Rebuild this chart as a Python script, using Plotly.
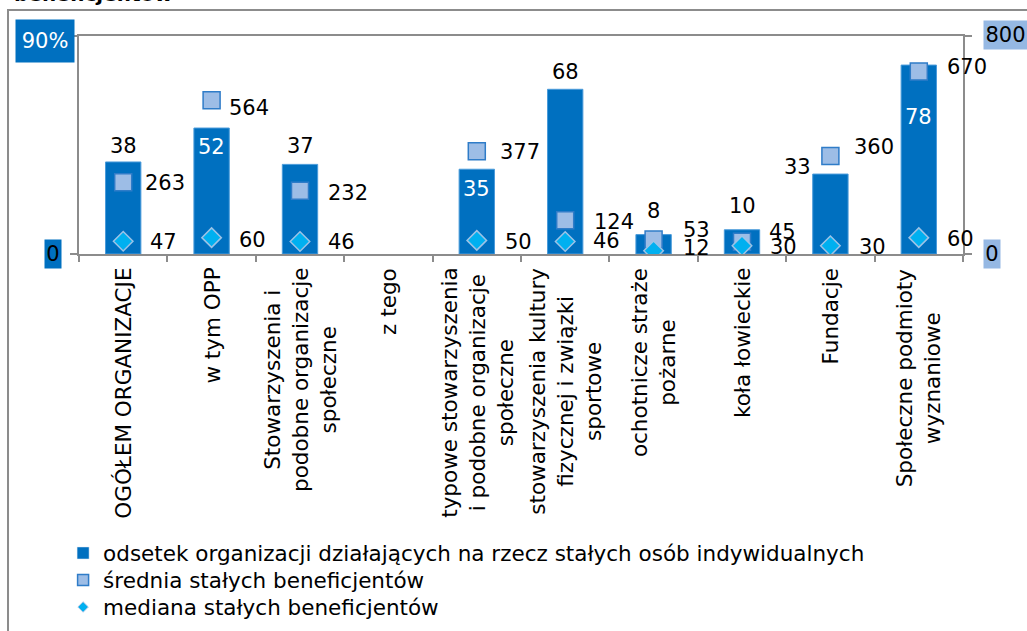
import plotly.graph_objects as go

# data
categories = [
    "OGÓŁEM ORGANIZACJE",
    "w tym OPP",
    "Stowarzyszenia i<br>podobne organizacje<br>społeczne",
    "z tego",
    "typowe stowarzyszenia<br>i podobne organizacje<br>społeczne",
    "stowarzyszenia kultury<br>fizycznej i związki<br>sportowe",
    "ochotnicze straże<br>pożarne",
    "koła łowieckie",
    "Fundacje",
    "Społeczne podmioty<br>wyznaniowe",
]
odsetek = [38, 52, 37, None, 35, 68, 8, 10, 33, 78]
srednia = [263, 564, 232, None, 377, 124, 53, 45, 360, 670]
mediana = [47, 60, 46, None, 50, 46, 12, 30, 30, 60]

name_bar = "odsetek organizacji działających na rzecz stałych osób indywidualnych"
name_avg = "średnia stałych beneficjentów"
name_med = "mediana stałych beneficjentów"

# styles
FONT = "DejaVu Sans"
FS = 21
FS_CAT = 21.5
BLUE = "#0070C0"
LIGHT = "#9DBDE6"
CYAN = "#00B0F0"
GRAY = "#8C8C8C"

# label offsets in px (xshift, yshift)
bar_lbl = [(0, 16), (0, -19), (0, 18), None, (0, -20), (0, 17), (0, 24), (0, 24), (-33, 7), (0, -52)]
bar_inside = [False, True, False, None, True, False, False, False, False, True]
avg_lbl = [(20, -1), (15, -8), (26, -2), None, (21, -1), (27, -2), (27, 10), (25, 10), (22, 9), (26, 4)]
med_lbl = [(25, -1), (25, -2), (26, -1), None, (26, -2), (26, 0), (27, 3), (26, -1), (27, -1), (26, -1)]

fig = go.Figure()

fig.add_trace(go.Bar(
    x=categories, y=odsetek, name=name_bar, width=0.4,
    marker=dict(color=BLUE, line=dict(color="#4A9BDA", width=1)),
    showlegend=False,
))
fig.add_trace(go.Scatter(
    x=categories, y=srednia, name=name_avg, mode="markers", yaxis="y2",
    marker=dict(symbol="square", size=17, color=LIGHT, line=dict(color="#2F7CC8", width=1.5)),
    showlegend=False,
))
fig.add_trace(go.Scatter(
    x=categories, y=mediana, name=name_med, mode="markers", yaxis="y2",
    marker=dict(symbol="diamond", size=15, color=CYAN, line=dict(color="#9DC3E6", width=1.5)),
    showlegend=False,
))

# legend-only entries with small symbols, one legend each
fig.add_trace(go.Bar(x=[None], y=[None], name=name_bar, marker=dict(color=BLUE), legend="legend"))
fig.add_trace(go.Scatter(x=[None], y=[None], name=name_avg, mode="markers", legend="legend2",
                         marker=dict(symbol="square", size=11, color=LIGHT,
                                     line=dict(color="#2F7CC8", width=1.5))))
fig.add_trace(go.Scatter(x=[None], y=[None], name=name_med, mode="markers", legend="legend3",
                         marker=dict(symbol="diamond", size=8, color=CYAN,
                                     line=dict(color="#9DC3E6", width=1))))

ann = []
for i, c in enumerate(categories):
    if odsetek[i] is not None:
        dx, dy = bar_lbl[i]
        ann.append(dict(x=c, y=odsetek[i], xref="x", yref="y", text=str(odsetek[i]),
                        showarrow=False, xshift=dx, yshift=dy,
                        font=dict(size=FS, color="white" if bar_inside[i] else "black")))
    if srednia[i] is not None:
        dx, dy = avg_lbl[i]
        ann.append(dict(x=c, y=srednia[i], xref="x", yref="y2", text=str(srednia[i]),
                        showarrow=False, xanchor="left", xshift=dx, yshift=dy,
                        font=dict(size=FS, color="black")))
    if mediana[i] is not None:
        dx, dy = med_lbl[i]
        ann.append(dict(x=c, y=mediana[i], xref="x", yref="y2", text=str(mediana[i]),
                        showarrow=False, xanchor="left", xshift=dx, yshift=dy,
                        font=dict(size=FS, color="black")))
    # category labels
    ann.append(dict(x=c, y=0, xref="x", yref="paper", text=c, textangle=-90,
                    showarrow=False, yanchor="top", yshift=-12, align="center",
                    font=dict(size=FS_CAT, color="black")))

# axis end labels with coloured boxes
ann += [
    dict(x=0, y=1, xref="paper", yref="paper", text="90%", showarrow=False,
         xanchor="right", yanchor="middle", xshift=-4, yshift=-5, width=56, height=40,
         bgcolor=BLUE, font=dict(size=FS, color="white")),
    dict(x=0, y=0, xref="paper", yref="paper", text="0", showarrow=False,
         xanchor="right", yanchor="middle", xshift=-17, yshift=0, width=14, height=26,
         bgcolor=BLUE, font=dict(size=FS, color="black")),
    dict(x=1, y=1, xref="paper", yref="paper", text="800", showarrow=False,
         xanchor="left", yanchor="middle", xshift=20, yshift=1, width=41, height=26,
         bgcolor="#95B8E3", font=dict(size=FS, color="black")),
    dict(x=1, y=0, xref="paper", yref="paper", text="0", showarrow=False,
         xanchor="left", yanchor="middle", xshift=20, yshift=0, width=14, height=26,
         bgcolor="#95B8E3", font=dict(size=FS, color="black")),
    dict(x=0, y=1, xref="paper", yref="paper", text="<b>beneficjentów</b>", showarrow=False,
         xanchor="left", yanchor="middle", xshift=-67, yshift=42,
         font=dict(size=20, color="black")),
]

leg = dict(x=-0.018, xanchor="left", yanchor="middle", itemwidth=30,
           font=dict(size=FS_CAT, color="black"), bgcolor="rgba(0,0,0,0)")

fig.update_layout(
    width=1027, height=631,
    margin=dict(l=79, r=64, t=36, b=377, autoexpand=False),
    paper_bgcolor="white", plot_bgcolor="white",
    font=dict(family=FONT, size=FS, color="black"),
    bargap=0.6,
    annotations=ann,
    shapes=[dict(type="rect", xref="paper", yref="paper",
                 x0=-0.0803, x1=1.2, y0=-2.0, y1=1.1193,
                 line=dict(color=GRAY, width=2))],
    legend=dict(leg, y=-1.3716),
    legend2=dict(leg, y=-1.4954),
    legend3=dict(leg, y=-1.6193),
    xaxis=dict(range=[-0.5, 9.5], showticklabels=False, ticks="outside",
               tickson="boundaries", ticklen=6, tickcolor=GRAY, tickwidth=2,
               showline=True, linecolor=GRAY, linewidth=2, mirror=True,
               showgrid=False, zeroline=False),
    yaxis=dict(range=[0, 90], tickvals=[0, 90], showticklabels=False, ticks="outside",
               ticklen=7, tickcolor=GRAY, tickwidth=2, showline=True,
               linecolor=GRAY, linewidth=2, showgrid=False, zeroline=False),
    yaxis2=dict(range=[0, 800], tickvals=[0, 800], showticklabels=False, ticks="outside",
                ticklen=7, tickcolor=GRAY, tickwidth=2, showline=True,
                linecolor=GRAY, linewidth=2, overlaying="y", side="right",
                showgrid=False, zeroline=False),
)

fig.write_html("out.html", config={"displayModeBar": False},
               post_script="document.body.style.margin='0';")
